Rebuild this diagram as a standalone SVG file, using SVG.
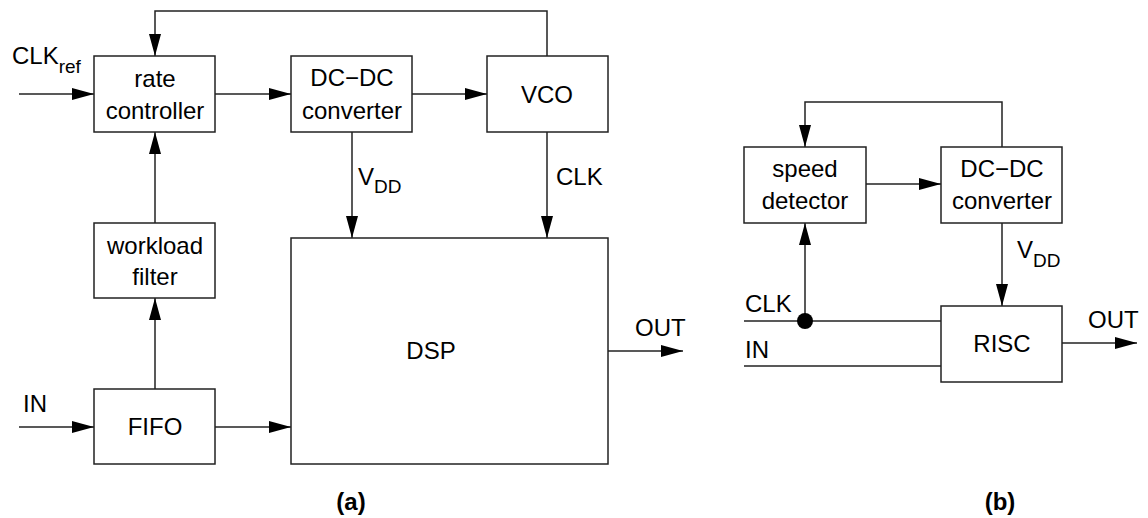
<svg xmlns="http://www.w3.org/2000/svg" width="1148" height="518" viewBox="0 0 1148 518">
<defs>
<marker id="arr" markerUnits="userSpaceOnUse" markerWidth="22" markerHeight="12" refX="22" refY="6" orient="auto">
<path d="M0,0 L22,6 L0,12 Z" fill="#000"/>
</marker>
</defs>
<style>
.box{fill:#fff;stroke:#222;stroke-width:1.5}
.ln{fill:none;stroke:#222;stroke-width:1.5}
.ar{fill:none;stroke:#222;stroke-width:1.5;marker-end:url(#arr)}
text{font-family:"Liberation Sans",Arial,sans-serif;font-size:24px;fill:#000}
.c{text-anchor:middle}
.sub{font-size:19px}
.cap{font-weight:bold;font-size:24px}
</style>
<rect width="1148" height="518" fill="#fff"/>
<g id="connectors">
<path class="ar" d="M547,56 V11 H155 V56"/>
<path class="ar" d="M19,94 H94"/>
<path class="ar" d="M215,94 H291"/>
<path class="ar" d="M412,94 H487"/>
<path class="ar" d="M352,132 V238"/>
<path class="ar" d="M547,132 V238"/>
<path class="ar" d="M155,223 V132"/>
<path class="ar" d="M155,389 V298"/>
<path class="ar" d="M19,427 H94"/>
<path class="ar" d="M215,427 H291"/>
<path class="ar" d="M608,351 H683"/>
<path class="ar" d="M1002,147 V102 H805 V147"/>
<path class="ar" d="M866,184 H941"/>
<path class="ar" d="M1002,223 V306"/>
<path class="ln" d="M744,321 H941"/>
<path class="ar" d="M805,321 V223"/>
<circle cx="805" cy="321" r="8" fill="#000"/>
<path class="ln" d="M744,366 H941"/>
<path class="ar" d="M1062,343 H1137"/>
</g>
<g id="rate-controller">
<rect class="box" x="94" y="56" width="121" height="76"/>
<text class="c" x="155" y="87">rate</text>
<text class="c" x="155" y="119">controller</text>
</g>
<g id="dcdc-a">
<rect class="box" x="291" y="56" width="121" height="76"/>
<text class="c" x="352" y="86">DC−DC</text>
<text class="c" x="352" y="119">converter</text>
</g>
<g id="vco">
<rect class="box" x="487" y="56" width="121" height="76"/>
<text class="c" x="547" y="103">VCO</text>
</g>
<g id="workload-filter">
<rect class="box" x="94" y="223" width="121" height="75"/>
<text class="c" x="155" y="254">workload</text>
<text class="c" x="155" y="285">filter</text>
</g>
<g id="fifo">
<rect class="box" x="94" y="389" width="121" height="75"/>
<text class="c" x="155" y="435">FIFO</text>
</g>
<g id="dsp">
<rect class="box" x="291" y="238" width="317" height="226"/>
<text class="c" x="431" y="359">DSP</text>
</g>
<g id="labels-a">
<text x="12" y="64">CLK<tspan class="sub" dy="9">ref</tspan></text>
<text x="23" y="412">IN</text>
<text x="358" y="185">V<tspan class="sub" dy="8">DD</tspan></text>
<text x="556" y="185">CLK</text>
<text x="635" y="336">OUT</text>
<text class="c cap" x="351" y="510">(a)</text>
</g>
<g id="speed-detector">
<rect class="box" x="744" y="147" width="122" height="76"/>
<text class="c" x="805" y="177">speed</text>
<text class="c" x="805" y="209">detector</text>
</g>
<g id="dcdc-b">
<rect class="box" x="941" y="147" width="121" height="76"/>
<text class="c" x="1002" y="177">DC−DC</text>
<text class="c" x="1002" y="209">converter</text>
</g>
<g id="risc">
<rect class="box" x="941" y="306" width="121" height="76"/>
<text class="c" x="1002" y="352">RISC</text>
</g>
<g id="labels-b">
<text x="1017" y="258">V<tspan class="sub" dy="9">DD</tspan></text>
<text x="745" y="312">CLK</text>
<text x="745" y="358">IN</text>
<text x="1088" y="328">OUT</text>
<text class="c cap" x="1000" y="510">(b)</text>
</g>
</svg>
